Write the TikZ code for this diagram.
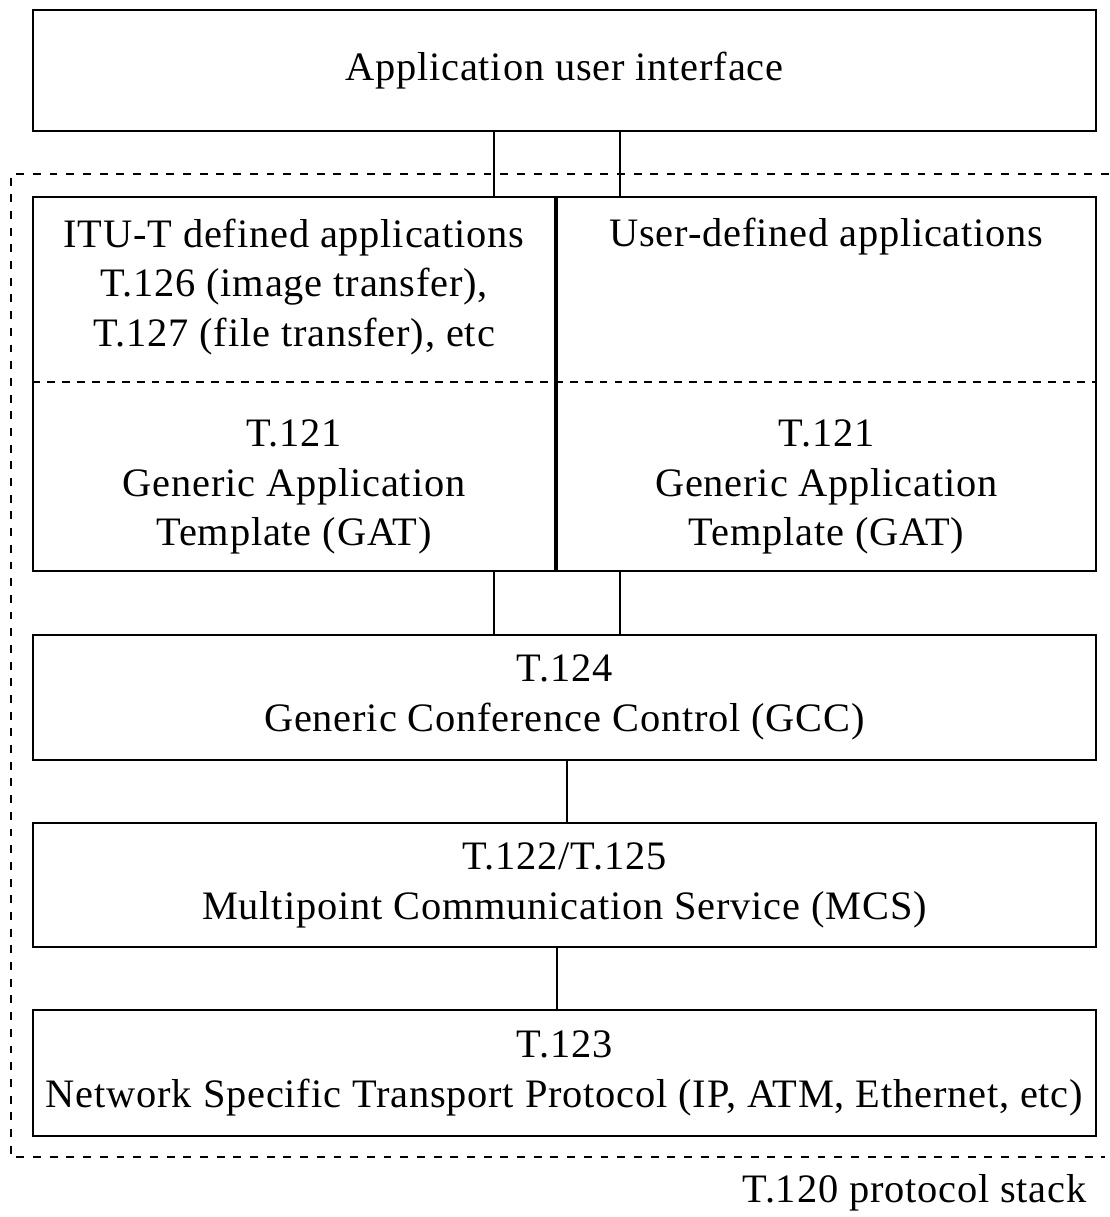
\documentclass[tikz,border=0pt]{standalone}
\usepackage{fontspec}
\setmainfont[LetterSpace=2]{Liberation Serif}
\usetikzlibrary{positioning,calc}
\tikzset{
  boxtext/.style={font=\fontsize{23}{28.4}\selectfont, align=center, inner sep=0pt},
  layer/.style={rectangle, draw=black, line width=1.1pt, minimum width=21.26cm,
    minimum height=2.5cm, boxtext},
  column/.style={rectangle, draw=black, line width=1.1pt, minimum height=7.48cm},
  link/.style={draw=black, line width=1.1pt},
  frame/.style={draw=black, line width=1.1pt, dash pattern=on 4.5pt off 5pt},
  divider/.style={draw=black, line width=0.9pt, dash pattern=on 4.5pt off 4pt}
}
\begin{document}
\begin{tikzpicture}[x=0.02cm, y=-0.02cm]
\useasboundingbox (0,0) rectangle (1109,1217);
\node[layer, minimum height=2.42cm] (ui) at (564.5,70.5) {Application user interface};
\node[column, minimum width=10.44cm] (colL) at (294,384) {};
\node[column, minimum width=10.78cm] (colR) at (826.5,384) {};
\node[boxtext] (itu) at (294,287) {ITU-T defined applications\\T.126 (image transfer),\\T.127 (file transfer), etc};
\node[boxtext] (user) at (826.5,237) {User-defined applications};
\node[boxtext] (gatL) at (294,487) {T.121\\Generic Application\\Template (GAT)};
\node[boxtext] (gatR) at (826.5,487) {T.121\\Generic Application\\Template (GAT)};
\node[layer] (gcc) at (564.5,697.5) {T.124\\Generic Conference Control (GCC)};
\node[layer, minimum height=2.48cm] (mcs) at (564.5,885) {T.122/T.125\\Multipoint Communication Service (MCS)};
\node[layer, minimum height=2.52cm] (net) at (564.5,1073) {T.123\\Network Specific Transport Protocol (IP, ATM, Ethernet, etc)};
\node[boxtext, anchor=east] (stack) at (1087,1193) {T.120 protocol stack};
\coordinate (div) at (0,382);
\coordinate (lx) at (494,0);
\coordinate (rx) at (620,0);
\coordinate (gx) at (567,0);
\coordinate (mx) at (557,0);
\draw[divider] (colL.west |- div) -- (colR.east |- div);
\draw[link] (ui.south -| lx) -- (colL.north -| lx);
\draw[link] (ui.south -| rx) -- (colR.north -| rx);
\draw[link] (colL.south -| lx) -- (gcc.north -| lx);
\draw[link] (colR.south -| rx) -- (gcc.north -| rx);
\draw[link] (gcc.south -| gx) -- (mcs.north -| gx);
\draw[link] (mcs.south -| mx) -- (net.north -| mx);
\draw[frame] (1109,174) -- (11,174) -- (11,1157) -- (1105,1157);
\end{tikzpicture}
\end{document}
